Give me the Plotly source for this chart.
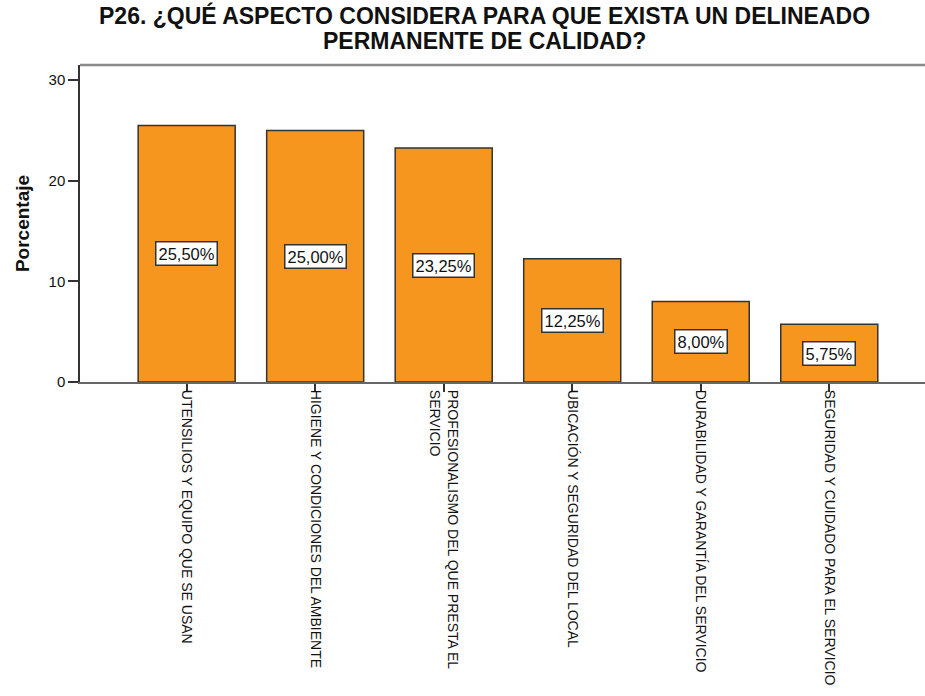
import plotly.graph_objects as go

# Survey answers (P26) and their share of respondents, in percent
categories = [
    "UTENSILIOS Y EQUIPO QUE SE USAN",
    "HIGIENE Y CONDICIONES DEL AMBIENTE",
    "PROFESIONALISMO DEL QUE PRESTA EL<br>SERVICIO",
    "UBICACIÓN Y SEGURIDAD DEL LOCAL",
    "DURABILIDAD Y GARANTÍA DEL SERVICIO",
    "SEGURIDAD Y CUIDADO PARA EL SERVICIO",
]
percentages = [25.50, 25.00, 23.25, 12.25, 8.00, 5.75]
y_ticks = [0, 10, 20, 30]
title_lines = [
    "P26. ¿QUÉ ASPECTO CONSIDERA PARA QUE EXISTA UN DELINEADO",
    "PERMANENTE DE CALIDAD?",
]

FONT = "Liberation Sans, Arial, sans-serif"
BAR_COLOR = "#F7961E"
EDGE = "#333333"

fig = go.Figure()
fig.add_trace(go.Bar(
    x=categories,
    y=percentages,
    width=0.755,
    marker=dict(color=BAR_COLOR, line=dict(color=EDGE, width=1.5)),
    hoverinfo="skip",
))

# Boxed value labels placed at half the bar height
for cat, val in zip(categories, percentages):
    fig.add_annotation(
        x=cat, y=val / 2, xref="x", yref="y",
        text=f"{val:.2f}".replace(".", ",") + "%",
        showarrow=False,
        font=dict(family=FONT, size=16.5, color="#111111"),
        bgcolor="white", bordercolor=EDGE, borderwidth=1.5, borderpad=2,
    )

# Two-line title set closely above the plot area
for line, ypos in zip(title_lines, [1.1546, 1.0757]):
    fig.add_annotation(
        x=0.479, y=ypos, xref="paper", yref="paper",
        xanchor="center", yanchor="middle", showarrow=False,
        text=f"<b>{line}</b>",
        font=dict(family=FONT, size=23, color="#111111"),
        borderpad=0,
    )

# Frame line along the top of the plot area
fig.add_shape(type="line", xref="paper", yref="paper",
              x0=0, x1=1, y0=1, y1=1,
              line=dict(color="#8a8a8a", width=2.5))

fig.update_layout(
    width=925, height=696,
    margin=dict(l=80, r=0, t=65, b=314),
    paper_bgcolor="white", plot_bgcolor="white",
    showlegend=False,
    font=dict(family=FONT, color="#111111"),
    bargap=0.245,
)

fig.update_xaxes(
    type="category",
    range=[-0.83, 5.745],
    tickangle=90,
    ticks="outside", ticklen=8, tickwidth=1.5, tickcolor=EDGE,
    tickfont=dict(family=FONT, size=14, color="#111111"),
    ticklabelstandoff=-5,
    showline=True, linecolor="#666666", linewidth=2,
    showgrid=False, zeroline=False,
)

fig.update_yaxes(
    range=[0, 31.5],
    tickvals=y_ticks,
    ticks="outside", ticklen=10, tickwidth=1.5, tickcolor=EDGE,
    tickfont=dict(family=FONT, size=15, color="#111111"),
    showline=True, linecolor=EDGE, linewidth=1.5,
    showgrid=False, zeroline=False,
    title=dict(text="<b>Porcentaje</b>", standoff=14,
               font=dict(family=FONT, size=19, color="#111111")),
)

fig.write_html("out.html")
